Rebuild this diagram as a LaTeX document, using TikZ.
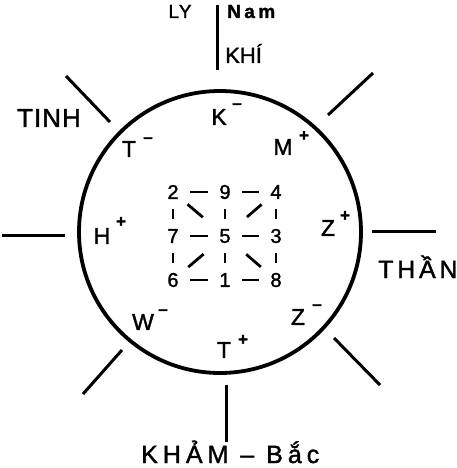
\documentclass[tikz,border=0pt]{standalone}
\usepackage{fontspec}
\setmainfont{Liberation Sans}[FakeBold=1.5]
\begin{document}
\begin{tikzpicture}[x=1pt,y=-1pt,
  spoke/.style={line width=3pt},
  rim/.style={line width=3.8pt},
  lbl/.style={inner sep=0pt,font=\fontsize{25}{25}\selectfont},
  ltr/.style={inner sep=0pt,font=\fontsize{23}{23}\selectfont},
  sgn/.style={inner sep=0pt,font=\fontsize{17}{17}\selectfont\bfseries},
  num/.style={inner sep=0pt,font=\fontsize{20}{20}\selectfont},
  gl/.style={line width=2.8pt,shorten <=17pt,shorten >=17pt},
  dg/.style={line width=2.8pt}
]
\useasboundingbox (0,0) rectangle (457,468);
% circle
\node[rim,draw,circle,minimum size=282pt,inner sep=0pt] (C) at (220,232) {};
% spokes
\coordinate (t1) at (217,5);   \coordinate (t2) at (217,70);
\coordinate (b1) at (226,385); \coordinate (b2) at (226,442);
\coordinate (l1) at (2,235);   \coordinate (l2) at (65,235);
\coordinate (r1) at (372,231); \coordinate (r2) at (436,231);
\coordinate (ul1) at (66,76);  \coordinate (ul2) at (110,122);
\coordinate (ur1) at (328,115);\coordinate (ur2) at (373,73);
\coordinate (ll1) at (122,350);\coordinate (ll2) at (83,394);
\coordinate (lr1) at (334,338);\coordinate (lr2) at (380,385);
\draw[spoke] (t1) -- (t2);
\draw[spoke] (b1) -- (b2);
\draw[spoke] (l1) -- (l2);
\draw[spoke] (r1) -- (r2);
\draw[spoke] (ul1) -- (ul2);
\draw[spoke] (ur1) -- (ur2);
\draw[spoke] (ll1) -- (ll2);
\draw[spoke] (lr1) -- (lr2);
% outer labels
\node[lbl,anchor=base,font=\fontsize{19}{19}\selectfont\addfontfeatures{LetterSpace=6}] (ly) at (180,18) {LY};
\node[lbl,anchor=base west,font=\fontsize{19}{19}\selectfont\bfseries\addfontfeatures{LetterSpace=18}] (nam) at (227,18) {Nam};
\node[lbl,anchor=base west,font=\fontsize{22}{22}\selectfont] (khi) at (225,63) {KHÍ};
\node[lbl,anchor=base,font=\fontsize{26}{26}\selectfont\addfontfeatures{LetterSpace=4}] (tinh) at (49,127) {TINH};
\node[lbl,anchor=base west,font=\fontsize{25}{25}\selectfont\addfontfeatures{LetterSpace=15}] (than) at (378,278) {THẦN};
\node[lbl,anchor=base west,font=\fontsize{25}{25}\selectfont\addfontfeatures{LetterSpace=20}] (kham) at (141,463) {KHẢM – Bắc};
% inner letters
\node[ltr] (K) at (219,117) {K};   \node[sgn] (Ks) at (237,106) {–};
\node[ltr] (Tm) at (129,149) {T};  \node[sgn] (Tms) at (148,140) {–};
\node[ltr] (M) at (283,147) {M};   \node[sgn] (Ms) at (304,136) {+};
\node[ltr] (H) at (102,236) {H};   \node[sgn] (Hs) at (121,222) {+};
\node[ltr] (Zp) at (328,228) {Z};  \node[sgn] (Zps) at (345,216) {+};
\node[ltr] (W) at (143,322) {W};   \node[sgn] (Ws) at (163,312) {–};
\node[ltr] (Tp) at (224,350) {T};  \node[sgn] (Tps) at (243,340) {+};
\node[ltr] (Zm) at (298,317) {Z};  \node[sgn] (Zms) at (317,307) {–};
% grid
\node[num] (n2) at (173,192) {2};
\node[num] (n9) at (225,192) {9};
\node[num] (n4) at (276,192) {4};
\node[num] (n7) at (173,236) {7};
\node[num] (n5) at (225,236) {5};
\node[num] (n3) at (276,236) {3};
\node[num] (n6) at (173,280) {6};
\node[num] (n1) at (225,280) {1};
\node[num] (n8) at (276,280) {8};
\draw[gl] (n2.center) -- (n9.center);
\draw[gl] (n9.center) -- (n4.center);
\draw[gl] (n7.center) -- (n5.center);
\draw[gl] (n5.center) -- (n3.center);
\draw[gl] (n6.center) -- (n1.center);
\draw[gl] (n1.center) -- (n8.center);
\draw[gl] (n2.center) -- (n7.center);
\draw[gl] (n9.center) -- (n5.center);
\draw[gl] (n4.center) -- (n3.center);
\draw[gl] (n7.center) -- (n6.center);
\draw[gl] (n5.center) -- (n1.center);
\draw[gl] (n3.center) -- (n8.center);
\draw[dg,shorten <=19pt,shorten >=29pt] (n2.center) -- (n5.center);
\draw[dg,shorten <=19pt,shorten >=29pt] (n4.center) -- (n5.center);
\draw[dg,shorten <=20pt,shorten >=28pt] (n6.center) -- (n5.center);
\draw[dg,shorten <=20pt,shorten >=28pt] (n8.center) -- (n5.center);
\end{tikzpicture}
\end{document}
